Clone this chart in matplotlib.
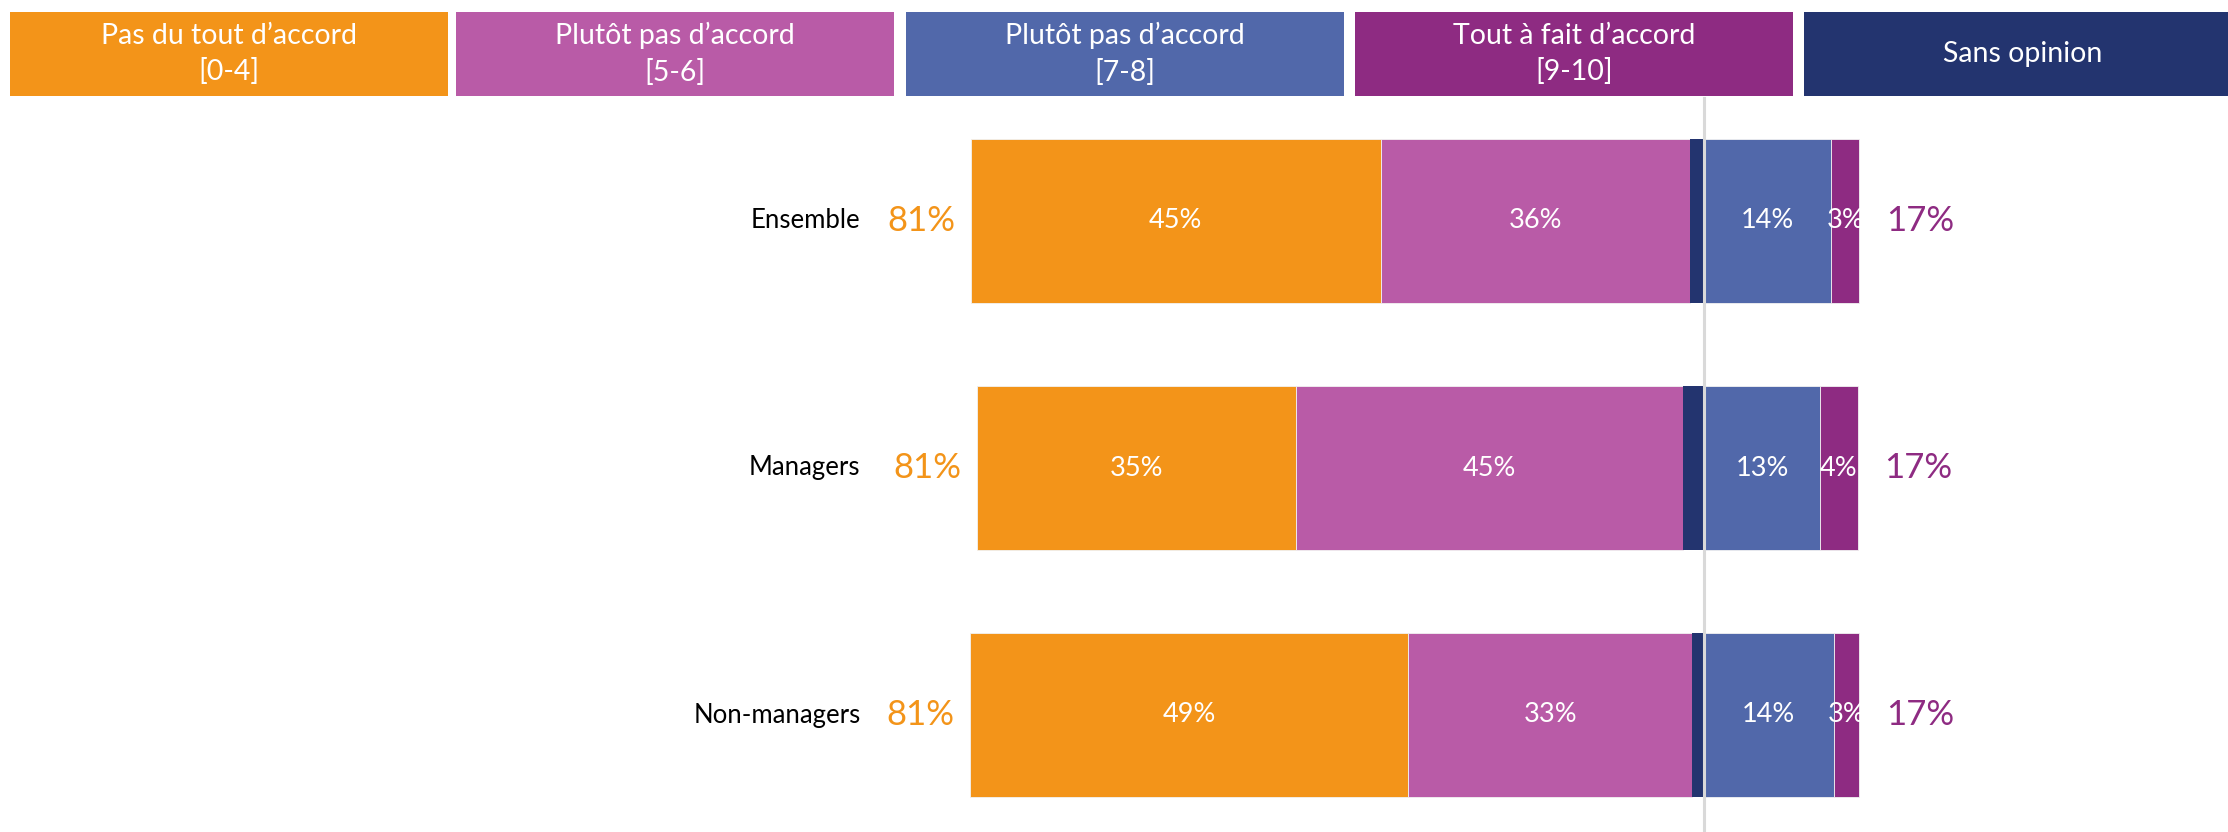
import matplotlib
matplotlib.use("Agg")
import matplotlib.pyplot as plt
from matplotlib.patches import Rectangle
import numpy as np

plt.rcParams['font.family'] = ['Lato', 'DejaVu Sans']

# ---------------- data ----------------
categories = ["Ensemble", "Managers", "Non-managers"]
# segment widths
pas_du_tout = [46.2, 36.0, 49.4]      # [0-4]
plutot_pas = [34.8, 43.5, 32.0]       # [5-6]
sans_opinion = [1.6, 2.4, 1.3]
plutot_accord = [14.3, 13.1, 14.6]    # [7-8]
tout_a_fait = [3.2, 4.2, 2.9]         # [9-10]
# printed labels
lbl_pas_du_tout = [45, 35, 49]
lbl_plutot_pas = [36, 45, 33]
lbl_plutot_accord = [14, 13, 14]
lbl_tout_a_fait = [3, 4, 3]
total_desaccord = [81, 81, 81]
total_accord = [17, 17, 17]

legend_labels = ["Pas du tout d\u2019accord\n[0-4]", "Plut\u00f4t pas d\u2019accord\n[5-6]",
                 "Plut\u00f4t pas d\u2019accord\n[7-8]", "Tout \u00e0 fait d\u2019accord\n[9-10]",
                 "Sans opinion"]

c_orange = "#F39419"
c_pink = "#B95BA7"
c_blue = "#5168AA"
c_purple = "#8E2B82"
c_navy = "#23346F"
legend_colors = [c_orange, c_pink, c_blue, c_purple, c_navy]

# ---------------- figure ----------------
W, H = 2228, 832
fig = plt.figure(figsize=(W / 100, H / 100), dpi=100)
ax = fig.add_axes([0, 0, 1, 1])
ax.set_axis_off()

center_px = 1704
px_per_unit = 8.88
ax.set_xlim(-center_px / px_per_unit, (W - center_px) / px_per_unit)
ax.set_ylim((H - 221) / 247, -221 / 247)

y = np.arange(len(categories))
h = 0.664

pd_ = np.array(pas_du_tout, float)
pp_ = np.array(plutot_pas, float)
so_ = np.array(sans_opinion, float)
pa_ = np.array(plutot_accord, float)
ta_ = np.array(tout_a_fait, float)

left_orange = -(pd_ + pp_ + so_)
left_pink = -(pp_ + so_)
left_navy = -so_

kw = dict(height=h, zorder=2, edgecolor="#F2F2F2", linewidth=0.6)
ax.barh(y, pd_, left=left_orange, color=c_orange, **kw)
ax.barh(y, pp_, left=left_pink, color=c_pink, **kw)
ax.barh(y, so_, left=left_navy, color=c_navy, height=h, zorder=2, linewidth=0)
ax.barh(y, pa_, left=0, color=c_blue, **kw)
ax.barh(y, ta_, left=pa_, color=c_purple, **kw)

# center line
ax.axvline(0, ymin=0, ymax=1 - 98 / H, color="#D9D9D9", lw=2.2, zorder=3)

# inner labels
inner_fs = 19.5
for i in range(len(categories)):
    segs = [(left_orange[i], pd_[i], lbl_pas_du_tout[i]),
            (left_pink[i], pp_[i], lbl_plutot_pas[i]),
            (0, pa_[i], lbl_plutot_accord[i]),
            (pa_[i], ta_[i], lbl_tout_a_fait[i])]
    for l, w, v in segs:
        ax.text(l + w / 2, y[i], f"{v}%", ha="center", va="center",
                color="white", fontsize=inner_fs, zorder=4)
    # category label
    ax.text(-95, y[i], categories[i], ha="right", va="center", color="black",
            fontsize=18.5)
    # totals
    ax.annotate(f"{total_desaccord[i]}%", xy=(left_orange[i], y[i]), xytext=(-11, 0),
                textcoords="offset points", ha="right", va="center",
                color=c_orange, fontsize=25)
    ax.annotate(f"{total_accord[i]}%", xy=(pa_[i] + ta_[i], y[i]), xytext=(19, 0),
                textcoords="offset points", ha="left", va="center",
                color=c_purple, fontsize=25)

# legend boxes
box_lefts = [10, 456, 906, 1355, 1804]
box_w = 438
box_top, box_bot = 12, 96
for bl, lab, col in zip(box_lefts, legend_labels, legend_colors):
    r = Rectangle((bl / W, 1 - box_bot / H), box_w / W, (box_bot - box_top) / H,
                  transform=fig.transFigure, facecolor=col, edgecolor="none")
    fig.add_artist(r)
    fig.text((bl + box_w / 2) / W, 1 - (box_top + box_bot) / 2 / H, lab,
             ha="center", va="center", color="white", fontsize=20.5,
             linespacing=1.45)

fig.savefig("out.png", dpi=100)
